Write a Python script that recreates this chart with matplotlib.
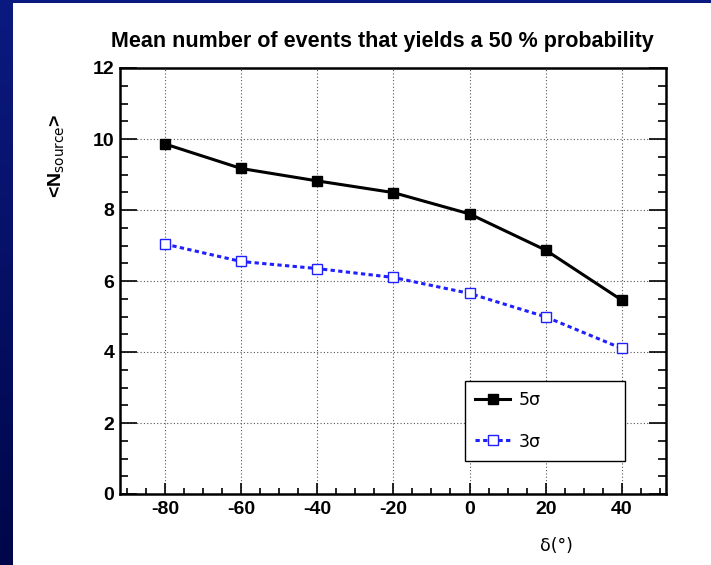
import numpy as np
import matplotlib
matplotlib.use("Agg")
import matplotlib.pyplot as plt
from matplotlib.patches import Rectangle
from matplotlib.ticker import MultipleLocator

# declination (deg) and mean number of source events for 50 % discovery probability
declination = [-80, -60, -40, -20, 0, 20, 40]
n_5sigma = [9.86, 9.17, 8.82, 8.49, 7.89, 6.87, 5.46]
n_3sigma = [7.04, 6.55, 6.35, 6.10, 5.65, 4.99, 4.10]

W, H = 711, 565
fig = plt.figure(figsize=(W / 100, H / 100), dpi=100)

# slide background: dark blue gradient with a white page on top
bg = fig.add_axes([0, 0, 1, 1], zorder=-2)
grad = np.linspace(0, 1, 256).reshape(-1, 1)
cmap = matplotlib.colors.LinearSegmentedColormap.from_list("slide", ["#0b1a80", "#000649"])
bg.imshow(grad, aspect="auto", cmap=cmap, extent=[0, 1, 0, 1], origin="upper")
bg.add_patch(Rectangle((13 / W, 0), 1 - 13 / W, 1 - 3 / H, facecolor="white", edgecolor="none"))
bg.set_xlim(0, 1)
bg.set_ylim(0, 1)
bg.axis("off")

ax = fig.add_axes([120 / W, 71 / H, (666 - 120) / W, (494 - 68) / H])
ax.set_facecolor("none")

ax.plot(declination, n_5sigma, "-s", color="black", lw=2.2, markersize=6.5,
        label="5σ", zorder=3)
ax.plot(declination, n_3sigma, linestyle=(0, (1.4, 1.1)), marker="s", color="#2020ff",
        lw=2.2, markersize=6.5, markerfacecolor="white", markeredgecolor="#2020ff",
        markeredgewidth=1.0, label="3σ", zorder=3)

ax.set_xlim(-91.8, 51.6)
ax.set_ylim(0, 12)
ax.xaxis.set_major_locator(MultipleLocator(20))
ax.xaxis.set_minor_locator(MultipleLocator(5))
ax.yaxis.set_major_locator(MultipleLocator(2))
ax.yaxis.set_minor_locator(MultipleLocator(0.5))
ax.grid(True, which="major", color="#555555", linestyle=(0, (1, 2)), lw=0.8)

for s in ax.spines.values():
    s.set_linewidth(1.8)
ax.tick_params(which="both", direction="in", left=True, right=True, bottom=True, top=False,
               width=1.2, color="black")
ax.tick_params(axis="y", which="major", length=12, pad=4)
ax.tick_params(axis="y", which="minor", length=6)
ax.tick_params(axis="x", which="major", length=8, pad=5)
ax.tick_params(axis="x", which="minor", length=4.5)

ax.set_xticks(declination)
ax.set_xticklabels([str(d) for d in declination])
ax.set_yticks(np.arange(0, 13, 2))
ax.set_yticklabels([str(v) for v in range(0, 13, 2)])
for lab in ax.get_xticklabels() + ax.get_yticklabels():
    lab.set_fontsize(14)
    lab.set_fontweight("bold")
    lab.set_family("Liberation Sans")

fig.text(382 / W, 1 - 41 / H, "Mean number of events that yields a 50 % probability",
         ha="center", va="center", fontsize=15.5, fontweight="bold", family="Liberation Sans")
fig.text(57 / W, 1 - 114 / H, r"<N$_{\rm source}$>", rotation=90, ha="center", va="top",
         fontsize=14, fontweight="bold", family="Liberation Sans")
fig.text(556 / W, 1 - 546 / H, "δ(°)", ha="center", va="center", fontsize=12.5,
         family="DejaVu Sans")

leg = ax.legend(loc="lower left", bbox_to_anchor=(0.632, 0.0775, 0.293, 0.19), mode="expand",
                borderaxespad=0, fancybox=False, edgecolor="black", framealpha=1,
                borderpad=0.6, labelspacing=1.35, handlelength=2.0, handletextpad=0.5,
                prop={"family": "DejaVu Sans", "size": 12.5})
leg.get_frame().set_linewidth(1.0)

fig.savefig("out.png", dpi=100)
